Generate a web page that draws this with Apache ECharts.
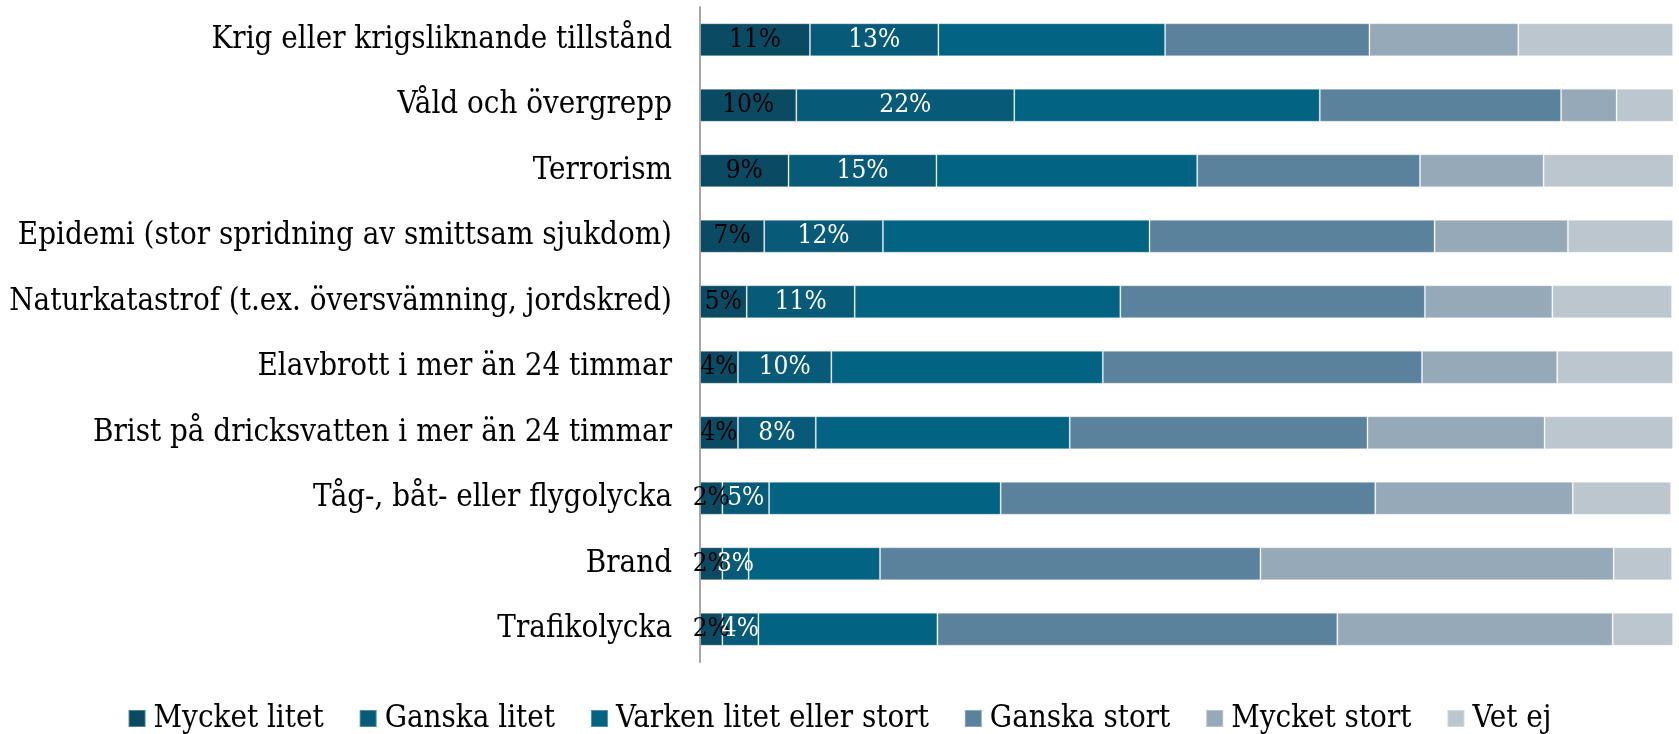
<!DOCTYPE html>
<html>
<head>
<meta charset="utf-8">
<script src="https://cdn.jsdelivr.net/npm/echarts@6/dist/echarts.min.js"></script>
<style>
  html, body { margin: 0; padding: 0; background: #fff; }
  #chart { width: 1679px; height: 734px; }
</style>
</head>
<body>
<div id="chart"></div>
<script>
(function () {
    var categories = [
        'Krig eller krigsliknande tillstånd',
        'Våld och övergrepp',
        'Terrorism',
        'Epidemi (stor spridning av smittsam sjukdom)',
        'Naturkatastrof (t.ex. översvämning, jordskred)',
        'Elavbrott i mer än 24 timmar',
        'Brist på dricksvatten i mer än 24 timmar',
        'Tåg-, båt- eller flygolycka',
        'Brand',
        'Trafikolycka'
    ];

    var seriesNames = ['Mycket litet', 'Ganska litet', 'Varken litet eller stort', 'Ganska stort', 'Mycket stort', 'Vet ej'];

    // andel i procent
    var mycketLitet = [11.3, 9.9, 9.1, 6.6, 4.8, 3.9, 3.9, 2.3, 2.3, 2.3];
    var ganskaLitet = [13.2, 22.4, 15.2, 12.2, 11.1, 9.6, 8.0, 4.8, 2.7, 3.7];
    var varken = [23.3, 31.4, 26.8, 27.4, 27.3, 27.9, 26.1, 23.8, 13.5, 18.4];
    var ganskaStort = [21.0, 24.8, 22.9, 29.3, 31.3, 32.8, 30.6, 38.5, 39.1, 41.1];
    var mycketStort = [15.3, 5.7, 12.7, 13.7, 13.1, 13.9, 18.2, 20.3, 36.3, 28.3];
    var vetEj = [15.9, 5.9, 13.4, 10.8, 12.3, 11.9, 13.2, 10.1, 6.0, 6.2];

    var colors = ['#0b4a63', '#075a78', '#026383', '#5a829c', '#96a9b8', '#bcc6cf'];
    var fontName = '"DejaVu Serif Condensed", "Liberation Serif", serif';

    function makeSeries(name, data, idx) {
        var s = {
            name: name,
            type: 'bar',
            stack: 'total',
            barWidth: 33,
            data: data,
            itemStyle: {
                color: colors[idx],
                borderColor: 'rgba(255,255,255,0.3)',
                borderWidth: 1
            }
        };
        if (idx < 2) {
            s.label = {
                show: true,
                position: 'inside',
                fontFamily: fontName,
                fontSize: 26,
                color: idx === 0 ? '#000' : '#fff',
                formatter: function (p) { return Math.round(p.value) + '%'; }
            };
        }
        return s;
    }

    var chart = echarts.init(document.getElementById('chart'));
    var option = {
        animation: false,
        textStyle: { fontFamily: fontName },
        grid: { left: 700, right: 6, top: 7, bottom: 72 },
        legend: {
            top: 698,
            left: 'center',
            itemWidth: 17,
            itemHeight: 17,
            itemGap: 35,
            icon: 'rect',
            textStyle: { fontFamily: fontName, fontSize: 31, color: '#000', padding: [0, 0, 0, 3] },
            data: seriesNames
        },
        xAxis: { type: 'value', min: 0, max: 100, show: false },
        yAxis: {
            type: 'category',
            inverse: true,
            data: categories,
            axisLine: { show: true, lineStyle: { color: '#a6a6a6', width: 2 } },
            axisTick: { show: false },
            axisLabel: { fontFamily: fontName, fontSize: 31, color: '#000', margin: 28 }
        },
        series: [
            makeSeries(seriesNames[0], mycketLitet, 0),
            makeSeries(seriesNames[1], ganskaLitet, 1),
            makeSeries(seriesNames[2], varken, 2),
            makeSeries(seriesNames[3], ganskaStort, 3),
            makeSeries(seriesNames[4], mycketStort, 4),
            makeSeries(seriesNames[5], vetEj, 5)
        ]
    };
    option && chart.setOption(option);
})();
</script>
</body>
</html>
